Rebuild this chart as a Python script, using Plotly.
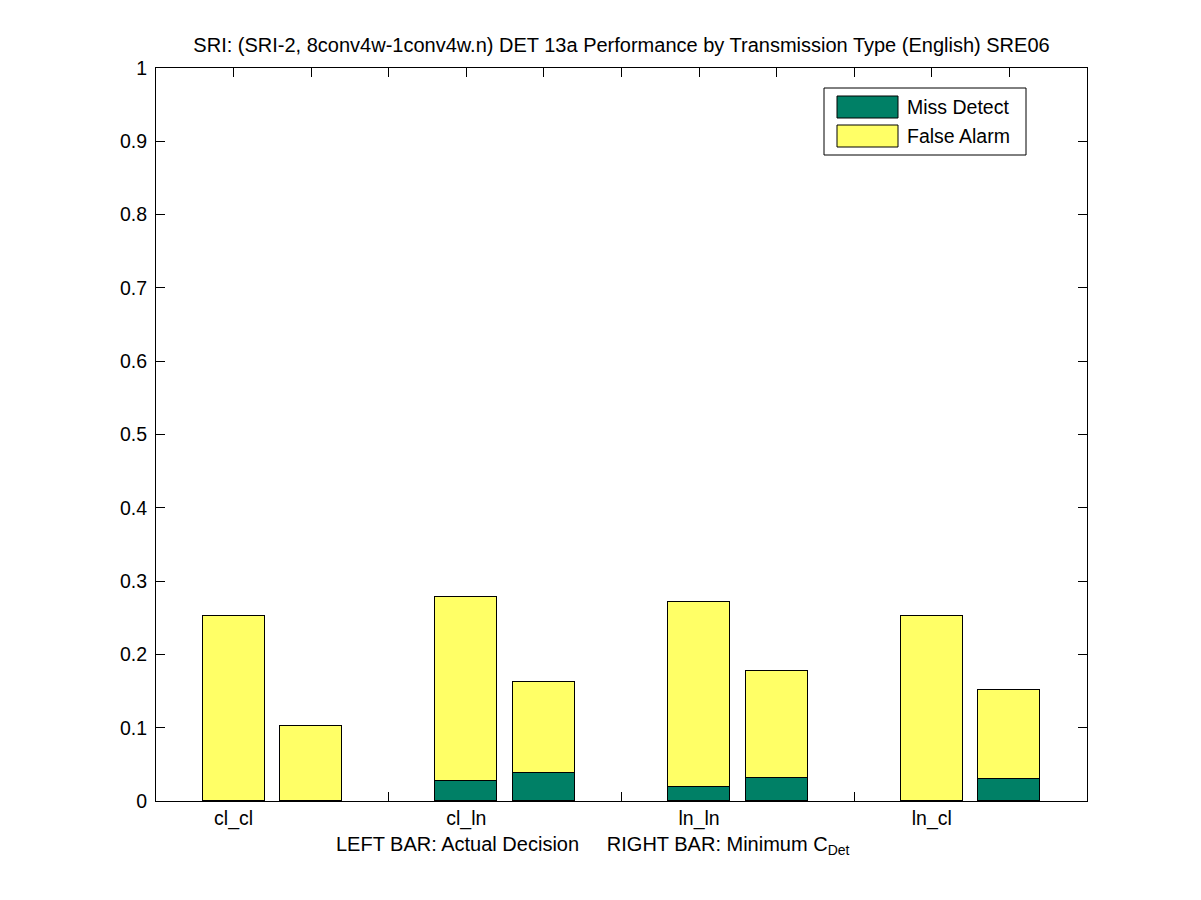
import plotly.graph_objects as go

# ---- data ----
categories = ["cl_cl", "cl_ln", "ln_ln", "ln_cl"]
series_names = ["Miss Detect", "False Alarm"]
# component heights, order per category: [actual decision, minimum C_Det]
miss_actual = [0.000, 0.027, 0.019, 0.000]
miss_min = [0.000, 0.038, 0.032, 0.030]
fa_actual = [0.252, 0.251, 0.252, 0.252]
fa_min = [0.103, 0.124, 0.145, 0.122]
y_ticks = [0, 0.1, 0.2, 0.3, 0.4, 0.5, 0.6, 0.7, 0.8, 0.9, 1]
y_tick_labels = ["0", "0.1", "0.2", "0.3", "0.4", "0.5", "0.6", "0.7", "0.8", "0.9", "1"]

GREEN = "rgb(0,128,102)"
YELLOW = "rgb(255,255,102)"
FONT = "Liberation Sans, Arial, Helvetica, sans-serif"
FS = 19.5
FS_T = 20

# page body has an 8px margin; coordinates below are given in screenshot pixels
OFF = 8
W, H = 1201, 900
PL, PT, PW, PH = 156, 68, 931, 733   # plot area in screenshot pixels
L, T = PL - OFF, PT - OFF
R, B = W - L - PW, H - T - PH

def px(x):
    return (x - PL) / PW

def py(y):
    return (PT + PH - y) / PH

# bar positions: left bar (actual) at i+1/3, right bar (minimum) at i+2/3
x_pos = []
miss_vals = []
fa_vals = []
for i in range(len(categories)):
    x_pos += [i + 1 / 3, i + 2 / 3]
    miss_vals += [miss_actual[i], miss_min[i]]
    fa_vals += [fa_actual[i], fa_min[i]]
miss_plot = [v if v > 0 else None for v in miss_vals]

bar_w = 0.266
fig = go.Figure()
fig.add_trace(go.Bar(x=x_pos, y=miss_plot, width=bar_w, name=series_names[0],
                     marker=dict(color=GREEN, line=dict(color="black", width=1)),
                     showlegend=False))
fig.add_trace(go.Bar(x=x_pos, y=fa_vals, width=bar_w, name=series_names[1],
                     marker=dict(color=YELLOW, line=dict(color="black", width=1)),
                     showlegend=False))

label_vals = [i + 1 / 3 for i in range(len(categories))]
minor_vals = [k / 3 for k in range(1, 12)]

fig.update_layout(
    width=W, height=H,
    margin=dict(l=L, r=R, t=T, b=B, autoexpand=False),
    paper_bgcolor="white", plot_bgcolor="white",
    barmode="stack", bargap=0,
    font=dict(family=FONT, size=FS, color="black"),
    title=dict(text="SRI: (SRI-2, 8conv4w-1conv4w.n) DET 13a Performance by Transmission Type (English) SRE06",
               x=0.5, xref="paper", xanchor="center",
               y=1 - (45 - OFF) / H, yref="container", yanchor="middle",
               font=dict(family=FONT, size=FS_T, color="black")),
    xaxis=dict(range=[0, 4], tickvals=label_vals, ticktext=categories,
               ticks="inside", ticklen=9, tickcolor="black", tickwidth=1,
               minor=dict(tickvals=minor_vals, ticks="inside", ticklen=9,
                          tickcolor="black", tickwidth=1, showgrid=False),
               showline=True, linecolor="black", linewidth=1, mirror="ticks",
               showgrid=False, zeroline=False, layer="below traces",
               tickfont=dict(family=FONT, size=FS, color="black")),
    yaxis=dict(range=[0, 1], tickvals=y_ticks, ticktext=y_tick_labels,
               ticks="inside", ticklen=9, tickcolor="black", tickwidth=1,
               showline=True, linecolor="black", linewidth=1, mirror="ticks",
               showgrid=False, zeroline=False, ticklabelstandoff=4,
               tickfont=dict(family=FONT, size=FS, color="black")),
)

# x label
fig.add_annotation(
    text="LEFT BAR: Actual Decision" + "\u00a0" * 5 + "RIGHT BAR: Minimum C<sub>Det</sub>",
    xref="paper", yref="paper", x=px(334), y=py(831), xanchor="left", yanchor="top",
    showarrow=False, font=dict(family=FONT, size=FS_T, color="black"))

# legend (drawn manually to match MATLAB style)
fig.add_shape(type="rect", xref="paper", yref="paper",
              x0=px(824), x1=px(1026), y0=py(155), y1=py(88),
              line=dict(color="black", width=1), fillcolor="white", layer="above")
leg_colors = [GREEN, YELLOW]
leg_rows = [(96, 118), (125, 147)]
for name, col, (y0, y1) in zip(series_names, leg_colors, leg_rows):
    fig.add_shape(type="rect", xref="paper", yref="paper",
                  x0=px(837), x1=px(898), y0=py(y1), y1=py(y0),
                  line=dict(color="black", width=1), fillcolor=col, layer="above")
    fig.add_annotation(text=name, xref="paper", yref="paper",
                       x=px(905), y=py((y0 + y1) / 2), xanchor="left", yanchor="middle",
                       showarrow=False, font=dict(family=FONT, size=FS, color="black"))

fig.write_html("out.html")
